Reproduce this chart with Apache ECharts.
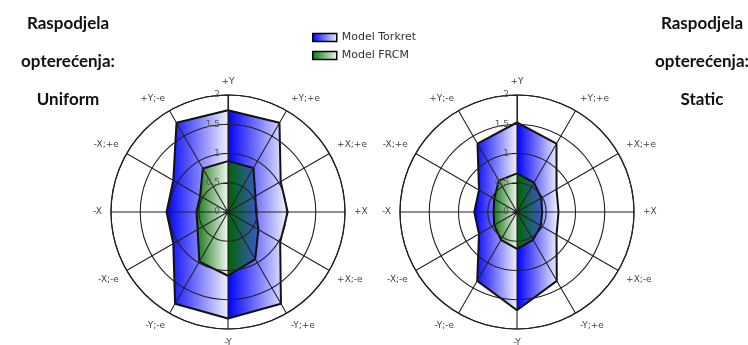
<!DOCTYPE html>
<html><head><meta charset="utf-8">
<script src="https://cdn.jsdelivr.net/npm/echarts@6/dist/echarts.min.js"></script>
<style>html,body{margin:0;padding:0;background:#fff}#c{width:748px;height:345px}</style>
</head><body><div id="c"></div>
<script>
const angleLabels = ['+Y','+Y;+e','+X;+e','+X','+X;-e','-Y;+e','-Y','-Y;-e','-X;-e','-X','-X;+e','+Y;-e'];
const radiusTicks = ['0','0.5','1','1.5','2'];
const uniformTorkret = [1.74,1.76,1.04,1.02,1.03,1.81,1.82,1.81,1.08,1.05,1.08,1.76];
const uniformFRCM    = [0.87,0.87,0.54,0.48,0.60,0.93,1.09,0.98,0.60,0.54,0.55,0.86];
const staticTorkret  = [1.53,1.35,0.78,0.71,0.78,1.36,1.68,1.36,0.75,0.73,0.75,1.35];
const staticFRCM     = [0.66,0.58,0.48,0.43,0.47,0.55,0.63,0.55,0.45,0.40,0.45,0.62];
const seriesNames = ['Model Torkret','Model FRCM'];
const titleLeft = ['Raspodjela','opterećenja:','Uniform'];
const titleRight = ['Raspodjela','opterećenja:','Static'];

const step = 360 / angleLabels.length;
function toPolar(vals){ const d = vals.map((v,i)=>[v, i*step]); d.push([vals[0], 360]); return d; }
function halfGradient(vals, ls, rs){
  let L=0,R=0;
  vals.forEach((v,i)=>{ const s=Math.sin(i*step*Math.PI/180)*v; if(s<0)L=Math.max(L,-s); else R=Math.max(R,s); });
  const t = L/(L+R);
  return new echarts.graphic.LinearGradient(0,0,1,0,[
    {offset:0,color:ls[0]},{offset:t,color:ls[1]},{offset:t,color:rs[0]},{offset:1,color:rs[1]}]);
}
const blueL=['#0000ff','#f0f0ff'], blueR=['#0000ff','#f4f4ff'];
const greenL=['#167616','#f2f8f2'], greenR=['#006400','#3a58d0'];

const chart = echarts.init(document.getElementById('c'));
const gridColor = '#222';
function angleAxis(idx){ return {
  polarIndex: idx, type:'value', min:0, max:360, interval:step, startAngle:90, clockwise:true, z:5,
  axisLine:{show:true, lineStyle:{color:gridColor, width:1.2}},
  axisTick:{show:false},
  splitLine:{show:true, lineStyle:{color:gridColor, width:1.1}},
  axisLabel:{show:true, margin:9, fontFamily:'DejaVu Sans', fontSize:9, color:'#444',
    formatter:v=> v>=360 ? '' : angleLabels[Math.round(v/step)]}
};}
function radiusAxis(idx){ return {
  polarIndex: idx, type:'value', min:0, max:2, interval:0.5, z:5,
  axisLine:{show:true, lineStyle:{color:gridColor, width:1.1}},
  axisTick:{show:true, length:5, lineStyle:{color:gridColor}},
  splitLine:{show:true, lineStyle:{color:gridColor, width:1.1}},
  axisLabel:{show:true, fontFamily:'DejaVu Sans', fontSize:9, color:'#555',
    formatter:v=> radiusTicks[Math.round(v/0.5)]}
};}
function ser(name, idx, vals, ls, rs, z){ return {
  name, type:'line', coordinateSystem:'polar', polarIndex:idx, symbol:'none', z,
  data: toPolar(vals),
  lineStyle:{color:'#111', width:2},
  itemStyle:{color: ls[0]},
  areaStyle:{color: halfGradient(vals, ls, rs), opacity:1}
};}
const titleStyle = {fontFamily:'Lato', fontWeight:'bold', fontSize:17, color:'#111', lineHeight:38};
chart.setOption({
  animation:false,
  title:[
    {text:titleLeft.join('\n'), left:63, top:0, textAlign:'center', textStyle:titleStyle},
    {text:titleRight.join('\n'), left:697, top:0, textAlign:'center', textStyle:titleStyle}
  ],
  legend:{orient:'vertical', left:307, top:27, itemWidth:24, itemHeight:8, itemGap:7,
    textStyle:{fontFamily:'DejaVu Sans', fontSize:11, color:'#333'},
    data:[
      {name:seriesNames[0], icon:'rect', itemStyle:{color:new echarts.graphic.LinearGradient(0,0,1,0,[{offset:0,color:'#0000ff'},{offset:1,color:'#f0f0ff'}]), borderColor:'#000', borderWidth:1.5}},
      {name:seriesNames[1], icon:'rect', itemStyle:{color:new echarts.graphic.LinearGradient(0,0,1,0,[{offset:0,color:'#0a7a0a'},{offset:1,color:'#f0f8f0'}]), borderColor:'#000', borderWidth:1.5}}
    ]},
  polar:[{center:[228,212], radius:117},{center:[517,212], radius:117}],
  angleAxis:[angleAxis(0), angleAxis(1)],
  radiusAxis:[radiusAxis(0), radiusAxis(1)],
  series:[
    ser(seriesNames[0],0,uniformTorkret,blueL,blueR,2),
    ser(seriesNames[1],0,uniformFRCM,greenL,greenR,3),
    ser(seriesNames[0],1,staticTorkret,blueL,blueR,2),
    ser(seriesNames[1],1,staticFRCM,greenL,greenR,3)
  ]
});
</script></body></html>
